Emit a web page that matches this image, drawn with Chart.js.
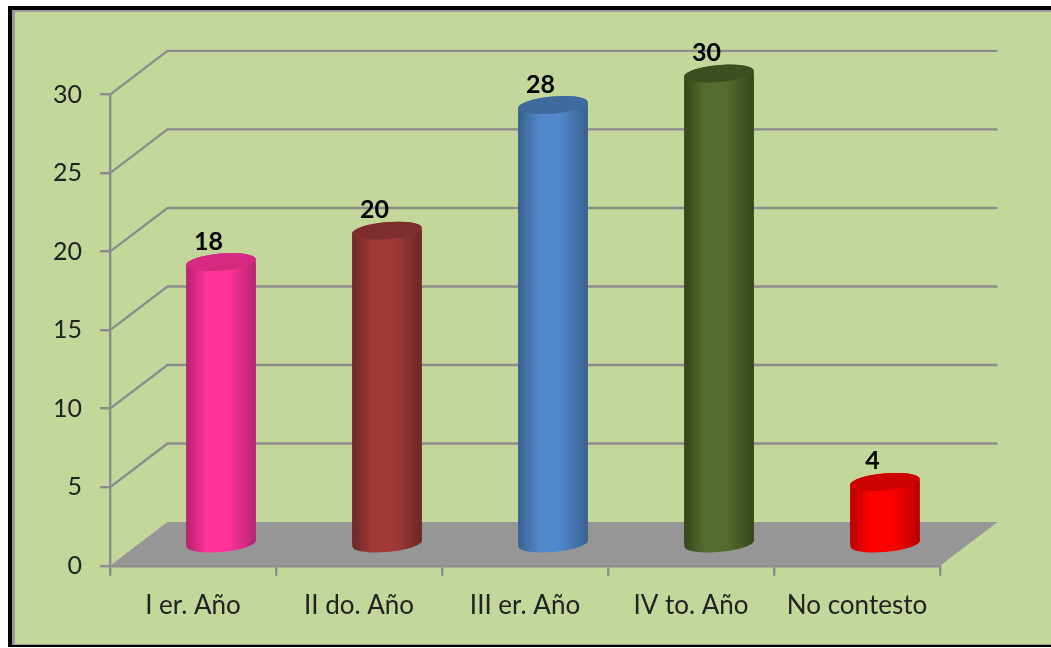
<!DOCTYPE html>
<html><head><meta charset="utf-8">
<script src="https://cdn.jsdelivr.net/npm/chart.js@4"></script>
<style>
html,body{margin:0;padding:0;background:#fff;overflow:hidden}
#frame{position:absolute;left:8px;top:6px;width:1043px;height:641px;background:#000}
#inner{position:absolute;left:4px;top:4px;right:0;bottom:2px;background:#C4D79B;border-left:3px solid #9a9a9a;border-top:2px solid #9a9a9a;border-bottom:1px solid #9a9a9a;box-sizing:border-box}
canvas{position:absolute;left:0;top:0}
</style></head>
<body>
<div id="frame"><div id="inner"></div></div>
<canvas id="c" width="1051" height="648"></canvas>
<script>
const categories = ["I er. Año","II do. Año","III er. Año","IV to. Año","No contesto"];
const values = [18,20,28,30,4];
const yTicks = [0,5,10,15,20,25,30];
const bodyColors = ["#FF3399","#A03A38","#5088CB","#566B2E","#FF0000"];
const edgeColors = ["#B5246F","#6B2827","#38608F","#364519","#B80000"];
const capColors  = ["#D62A82","#7D2E2C","#3F6A9E","#3F4E20","#CC0000"];

const DEPTH_X = 57.5, DEPTH_Y = -43.7;
const LINE = "#8C8C8C", FLOOR = "#969696";
const SHIFT_X = 28, SHIFT_Y = -21, TILT = -5*Math.PI/180, CAP_RY = 8.5;
const FONT = "Lato";

function silhouette(ctx,el){
  const a=el.width/2, b=CAP_RY;
  const t0=Math.atan(-(b/a)*Math.tan(TILT));
  ctx.moveTo(0,0);
  ctx.beginPath();
  ctx.ellipse(el.x,el.base,a,b,TILT,t0,t0+Math.PI);
  ctx.ellipse(el.x,el.y,a,b,TILT,t0+Math.PI,t0+2*Math.PI);
  ctx.closePath();
}
const wall3d = {
  id:"wall3d",
  beforeDatasetsDraw(chart){
    const {ctx,scales:{y},chartArea:a}=chart;
    const y0=y.getPixelForValue(0), l=a.left, r=a.right;
    ctx.save();
    ctx.beginPath();
    ctx.moveTo(l,y0);ctx.lineTo(l+DEPTH_X,y0+DEPTH_Y);ctx.lineTo(r+DEPTH_X,y0+DEPTH_Y);ctx.lineTo(r,y0);ctx.closePath();
    ctx.fillStyle=FLOOR;ctx.fill();
    ctx.strokeStyle=LINE;ctx.lineWidth=2.4;
    yTicks.forEach(t=>{
      if(t===0) return;
      const p=y.getPixelForValue(t);
      ctx.beginPath();ctx.moveTo(l,p);ctx.lineTo(l+DEPTH_X,p+DEPTH_Y);ctx.lineTo(r+DEPTH_X,p+DEPTH_Y);ctx.stroke();
    });
    ctx.restore();
  },
  beforeDatasetDraw(chart,args){
    const {ctx}=chart;
    ctx.save();
    ctx.translate(SHIFT_X,SHIFT_Y);
    args.meta.data.forEach((el,i)=>{
      silhouette(ctx,el);
      ctx.fillStyle=makeGradient(ctx,el.x,el.width/2,i);
      ctx.fill();
    });
    ctx.beginPath();
    args.meta.data.forEach(el=>{
      const a=el.width/2,b=CAP_RY,t0=Math.atan(-(b/a)*Math.tan(TILT));
      ctx.moveTo(el.x+a*Math.cos(t0)*Math.cos(TILT)-b*Math.sin(t0)*Math.sin(TILT),el.base+a*Math.cos(t0)*Math.sin(TILT)+b*Math.sin(t0)*Math.cos(TILT));
      ctx.ellipse(el.x,el.base,a,b,TILT,t0,t0+Math.PI);
      ctx.ellipse(el.x,el.y,a,b,TILT,t0+Math.PI,t0+2*Math.PI);
      ctx.closePath();
    });
    ctx.clip();
  },
  afterDatasetDraw(chart,args){
    const {ctx}=chart;
    ctx.restore();
    ctx.save();
    ctx.translate(SHIFT_X,SHIFT_Y);
    args.meta.data.forEach((el,i)=>{
      ctx.beginPath();
      ctx.ellipse(el.x,el.y,el.width/2,CAP_RY,TILT,0,Math.PI*2);
      ctx.fillStyle=capColors[i];ctx.fill();
    });
    ctx.restore();
    ctx.save();
    ctx.font="bold 25px "+FONT;ctx.fillStyle="#000";ctx.textAlign="center";ctx.textBaseline="middle";
    args.meta.data.forEach((el,i)=>{
      ctx.fillText(String(values[i]),el.x+15.5,el.y-41.5);
    });
    ctx.restore();
  }
};
function makeGradient(ctx,cx,h,i){
  const g=ctx.createLinearGradient(cx-h,0,cx+h,0);
  g.addColorStop(0,edgeColors[i]);
  g.addColorStop(0.3,bodyColors[i]);
  g.addColorStop(0.6,bodyColors[i]);
  g.addColorStop(1,edgeColors[i]);
  return g;
}
new Chart(document.getElementById("c"),{
  type:"bar",
  data:{labels:categories,datasets:[{
    data:values,
    barPercentage:0.42,categoryPercentage:1,
    backgroundColor(c){
      const ch=c.chart,x=ch.scales.x;
      if(!x||!ch.chartArea||c.dataIndex===undefined) return "#888";
      const h=x.width/categories.length*0.42/2;
      return makeGradient(ch.ctx,x.getPixelForValue(c.dataIndex),h,c.dataIndex);
    },
    borderWidth:0
  }]},
  options:{
    responsive:false,animation:false,
    layout:{padding:{top:94.6,right:111,left:0,bottom:0}},
    plugins:{legend:{display:false},tooltip:{enabled:false}},
    scales:{
      x:{
        afterFit(s){s.height=82.3},
        border:{color:LINE,width:2.4},
        grid:{drawOnChartArea:false,drawTicks:true,tickLength:10,color:LINE,lineWidth:2.4},
        ticks:{color:"#222",font:{family:FONT,size:26},padding:14,maxRotation:0,autoSkip:false}
      },
      y:{
        min:0,max:30,
        afterFit(s){s.width=110},
        afterBuildTicks(s){s.ticks=yTicks.map(v=>({value:v}))},
        border:{color:LINE,width:2.4},
        grid:{drawOnChartArea:false,drawTicks:true,tickLength:10,color:LINE,lineWidth:2.4},
        ticks:{color:"#222",font:{family:FONT,size:25},padding:18}
      }
    }
  },
  plugins:[wall3d]
});
</script>
</body></html>
